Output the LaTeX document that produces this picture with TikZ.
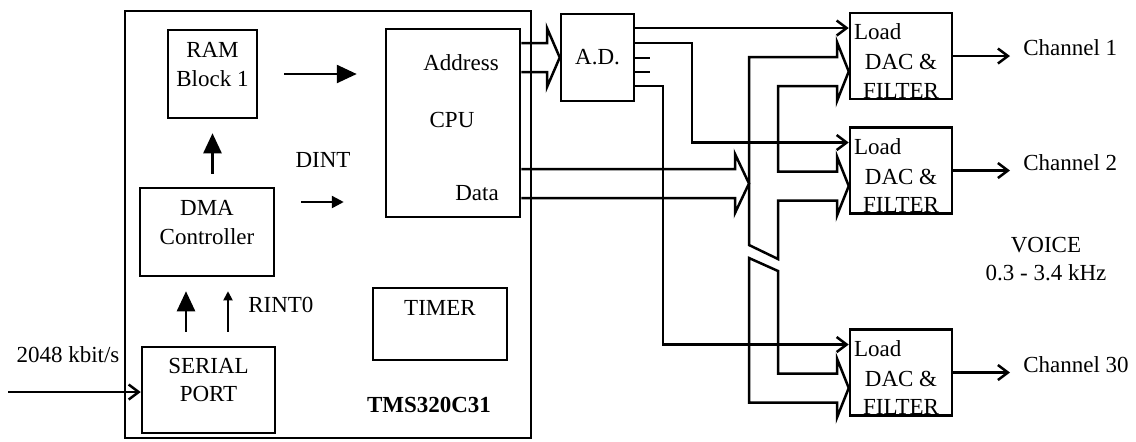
\documentclass[tikz,border=0pt]{standalone}
\usepackage{fontspec}
\setmainfont{Liberation Serif}
\usetikzlibrary{arrows.meta}

\begin{document}
\begin{tikzpicture}[x=0.5pt,y=-0.5pt,line width=1.25pt,
    font=\fontsize{11.5}{14.3}\selectfont,
    blk/.style 2 args={draw,minimum width=#1,minimum height=#2,inner sep=0pt},
    txt/.style={align=center,inner sep=0pt},
    fatarr/.style={-{Triangle[length=10pt,width=9pt]}},
    midarr/.style={-{Triangle[length=6pt,width=6pt]}},
    thinarr/.style={line width=0.9pt,-{Triangle[length=4.5pt,width=4.5pt]}},
    barbarr/.style={-{Straight Barb[length=5pt,width=7.5pt]}}]
    \useasboundingbox (0,0) rectangle (1136,441);

    % processor and its blocks
    \node[blk={203pt}{213.5pt}] (tms) at (328,224.5) {};
    \node[blk={44.5pt}{44pt}] (ram) at (212.5,74) {};
    \node[blk={67pt}{44pt}] (dma) at (207,232) {};
    \node[blk={66.5pt}{43pt}] (ser) at (208.5,390) {};
    \node[blk={67pt}{94pt}] (cpu) at (453,123) {};
    \node[blk={67pt}{36pt}] (tim) at (440,324) {};
    \node[blk={36.5pt}{43.5pt}] (ad) at (597.5,57.5) {A.D.};

    \node[txt] (ramt) at (212.5,64.5) {RAM\\Block 1};
    \node[txt] (dmat) at (207,222.5) {DMA\\Controller};
    \node[txt] (sert) at (208.5,380) {SERIAL\\PORT};
    \node[txt] (timt) at (440,308) {TIMER};
    \node[txt,font=\fontsize{11.5}{14.3}\selectfont\bfseries] (tmst) at (429,405) {TMS320C31};
    \node[txt,anchor=east] (addr) at (500,63) {Address};
    \node[txt] (cput) at (452,120) {CPU};
    \node[txt,anchor=east] (datat) at (500,193) {Data};

    % DAC boards
    \foreach \n/\y in {1/56,2/170.5,30/372.5}{
        \node[blk={51pt}{43pt}] (dac\n) at (901,\y) {};
        \node[txt,anchor=west] (load\n) at ([xshift=2pt,yshift=-10pt]dac\n.north west) {Load};
        \node[txt] (filt\n) at ([yshift=-10.25pt]dac\n.center) {DAC \&\\FILTER};
        \node[txt,anchor=west] (ch\n) at (1022,\y-8) {Channel \n};
        \draw[barbarr,shorten >=6pt] (dac\n.east) -- (dac\n.east -| ch\n.west);
        \coordinate (l\n) at ([yshift=14pt]dac\n.west);
        \coordinate (t\n) at ([yshift=-7.75pt]dac\n.west);
    }

    \node[txt] (voice) at (1046,259) {VOICE\\0.3 - 3.4 kHz};
    \node[txt] (rate) at (68,355) {2048 kbit/s};
    \node[txt] (dint) at (323,160) {DINT};
    \node[txt,anchor=west] (rint) at (247,305) {RINT0};

    % arrows inside the processor
    \coordinate (inp) at (8,392);
    \draw[barbarr] (inp) -- (inp -| ser.west);
    \draw[fatarr,shorten <=7pt,shorten >=7pt] (ser.north -| 186,0) -- (dma.south -| 186,0);
    \draw[thinarr,shorten <=7pt,shorten >=7pt] (ser.north -| 228,0) -- (dma.south -| 228,0);
    \draw[fatarr,shorten <=6.5pt,shorten >=7pt] (dma.north -| ram.south) -- (ram.south);
    \draw[fatarr,shorten <=13pt,shorten >=14pt] (ram.east) -- (ram.east -| cpu.west);
    \draw[midarr,shorten <=13pt,shorten >=20.5pt] (dma.east |- 0,202) -- (cpu.west |- 0,202);

    % address and data buses
    \coordinate (bus) at (749,183.5);
    \draw (cpu.east |- 0,43) -- (547,43) -- (547,28) -- (ad.west) -- (547,87) -- (547,72) -- (cpu.east |- 0,72);
    \draw (cpu.east |- 0,169) -- (735,169) -- (735,154) -- (bus) -- (735,213) -- (735,198) -- (cpu.east |- 0,198);

    % load lines from the A.D.
    \draw[barbarr] (ad.east |- l1) -- (l1);
    \draw[barbarr] (ad.east |- 0,43) -- (692,43) |- (l2);
    \draw[barbarr] (ad.east |- 0,86) -- (663,86) |- (l30);
    \foreach \s in {58,72} \draw (ad.east |- 0,\s) -- ++(15,0);

    % data bus to the DAC boards
    \draw (749,245) -- (749,57) -- (837,57) -- (837,42) -- (t1) -- (837,101) -- (837,86)
        -- (778,86) -- (778,171.5) -- (837,171.5) -- (837,156.5) -- (t2) -- (837,215.5)
        -- (837,200.5) -- (778,200.5) -- (778,259) -- cycle;
    \draw (749,258) -- (778,271) -- (778,373.5) -- (837,373.5) -- (837,358.5) -- (t30)
        -- (837,417.5) -- (837,402.5) -- (749,402.5) -- cycle;
\end{tikzpicture}
\end{document}
